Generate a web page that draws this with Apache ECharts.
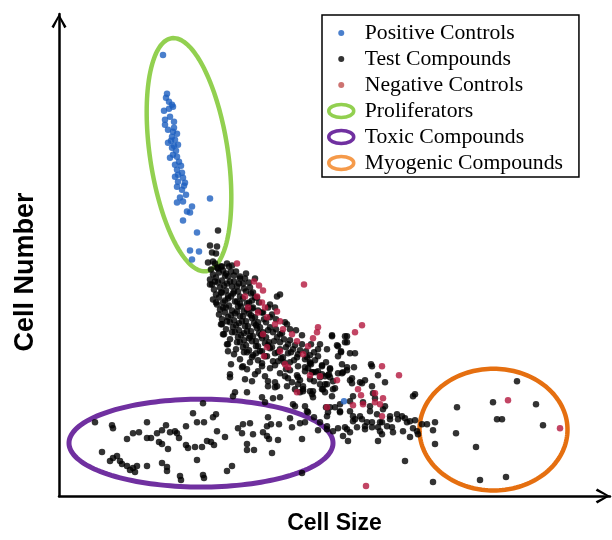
<!DOCTYPE html>
<html>
<head>
<meta charset="utf-8">
<script src="https://cdn.jsdelivr.net/npm/echarts@6/dist/echarts.min.js"></script>
<style>html,body{margin:0;padding:0;background:#fff;}#chart{width:612px;height:540px;}</style>
</head>
<body>
<div id="chart"></div>
<script>
// Axis names and legend labels
const xName = 'Cell Size';
const yName = 'Cell Number';
const legendNames = ['Positive Controls', 'Test Compounds', 'Negative Controls', 'Proliferators', 'Toxic Compounds', 'Myogenic Compounds'];

// Axis ranges (arbitrary units)
const xRange = [59, 610];
const yRange = [3, 486];

// Positive controls [cell size, cell number]
const positiveControls = [
  [163,445],[167,406],[166,402],[169,398],[172,395],[173,393],[164,389],[169,391],[170,383],[165,380],
  [174,378],[165,375],[174,372],[168,370],[173,368],[177,366],[172,363],[175,360],[171,359],[168,357],
  [178,355],[174,354],[172,352],[176,349],[173,345],[177,343],[170,342],[179,338],[175,335],[181,334],
  [177,330],[182,327],[178,325],[175,323],[183,322],[178,318],[185,317],[184,314],[177,313],[182,310],
  [186,305],[210,301],[180,302],[177,297],[183,298],[192,293],[187,288],[190,287],[183,279],[197,267],
  [190,249],[199,248],[192,240],[344,98]
];

// Negative controls
const negativeControls = [
  [237,236],[254,218],[259,214],[263,209],[245,203],[304,215],[257,203],[262,197],[265,192],[248,192],
  [258,187],[277,188],[267,182],[280,178],[275,175],[318,172],[317,167],[362,174],[355,167],[283,170],
  [292,165],[263,165],[297,158],[313,161],[308,153],[267,152],[280,148],[303,145],[264,143],[285,135],
  [288,132],[382,133],[399,124],[310,124],[320,123],[337,119],[297,107],[358,110],[361,104],[375,106],
  [383,101],[375,97],[380,95],[363,95],[353,94],[327,92],[382,83],[508,99],[560,71],[366,13]
];

// Test compounds: main cloud
const testCloud = [
  [215,236],[221,233],[227,236],[232,234],
  [211,230],[217,232],[223,229],[229,233],[236,228],
  [213,225],[219,227],[225,224],[231,228],[240,223],[246,226],
  [210,220],[216,222],[222,219],[228,223],[234,218],[240,221],[249,217],
  [212,215],[218,217],[224,214],[230,218],[237,213],[243,216],[250,212],
  [214,210],[220,212],[226,209],[232,213],[238,208],[244,211],[253,207],
  [216,205],[222,207],[228,204],[234,208],[240,203],[251,206],[257,202],
  [213,200],[219,202],[225,199],[231,203],[237,198],[243,201],[249,197],[255,202],
  [217,195],[223,197],[229,194],[235,198],[241,193],[247,196],[253,192],[259,197],[270,195],
  [220,190],[226,192],[232,189],[238,193],[244,188],[252,191],[262,187],[268,192],
  [219,185],[225,187],[231,184],[237,188],[243,183],[249,186],[255,182],[263,187],[272,185],
  [222,180],[228,182],[234,179],[240,183],[246,178],[252,181],[258,177],[270,182],[276,180],
  [221,175],[230,177],[236,174],[242,178],[248,173],[254,176],[260,172],[266,177],[287,175],
  [226,170],[233,172],[239,169],[245,173],[251,168],[257,171],[263,167],[270,172],[276,170],[296,169],
  [224,165],[235,167],[241,164],[247,168],[253,163],[259,166],[266,162],[273,167],[280,165],[302,164],
  [230,160],[238,162],[244,159],[250,163],[256,158],[262,161],[269,157],[277,162],[284,160],[290,159],
  [228,155],[240,157],[246,154],[252,158],[258,153],[265,156],[272,152],[280,157],[288,155],[295,154],
  [236,150],[243,152],[249,149],[256,153],[262,148],[270,151],[278,147],[286,152],[293,150],[300,149],[318,150],
  [234,145],[247,147],[253,144],[260,148],[267,143],[275,146],[283,142],[291,147],[298,145],[310,144],
  [240,140],[252,142],[258,139],[265,143],[273,138],[281,141],[290,137],[297,142],[305,140],[315,139],
  [231,135],[243,133],[262,136],[275,134],[284,137],[298,133],[310,136],[322,134],[342,135],
  [247,130],[258,128],[270,131],[290,129],[305,132],[318,128],[330,131],[347,129],
  [230,125],[265,123],[280,126],[297,124],[312,127],[325,123],[338,126],
  [245,120],[268,118],[288,121],[300,119],[320,122],[333,118],[352,121],[365,119],
  [277,203],[280,205],[275,192],[285,177],[290,170],[245,221],[255,221],[210,215],[222,175],[223,165],
  [227,155],[228,148],[332,164],[345,163],[347,157],[338,153],[341,147],[311,155],[306,148],[318,143],
  [326,137],[330,130],[313,127],[310,120],[298,122],[320,115],[285,123],[292,117],[303,110],[275,112],
  [218,269],[210,254],[217,253],[212,247],[216,246],[208,237],[222,233],[213,238],
  [218,231],[226,226],[234,224],[215,218],[227,216],[239,216],[221,207],[233,206],[246,208],[216,197],
  [228,201],[240,196],[252,199],[223,192],[235,186],[247,190],[258,189],[227,178],[239,176],[251,184],
  [264,180],[232,167],[244,166],[256,174],[268,169],[237,157],[249,161],[261,164],[274,158],[282,166],
  [244,147],[256,146],[268,154],[280,150],[288,146],[250,137],[262,133],[278,138],[294,139],[302,155],
  [286,130],[255,125],[308,131]
];

// Test compounds: between cloud and toxic region
const testMid = [
  [233,103],[262,102],[273,101],[280,102],[293,95],[307,88],[300,107],[235,107],[277,113],[252,118],
  [275,117],[295,110],[298,115],[303,113],[310,108],[312,105],[322,110],[327,115],[314,118],[295,93],
  [305,93],[265,97],[268,113],[287,113],[247,107],[230,122],[242,132],[203,96]
];

// Test compounds: toxic region
const testToxic = [
  [95,77],[112,74],[113,71],[147,77],[127,60],[133,66],[139,67],[147,61],[151,61],[157,66],
  [162,69],[166,74],[159,57],[162,55],[168,50],[170,67],[175,68],[177,66],[179,61],[186,73],
  [193,86],[197,77],[204,77],[213,82],[216,85],[186,54],[188,51],[195,52],[202,52],[207,58],
  [211,57],[214,54],[217,68],[225,62],[102,47],[110,38],[113,41],[117,43],[120,38],[122,35],
  [127,33],[130,29],[133,31],[135,27],[137,33],[147,33],[162,36],[167,32],[167,28],[180,23],
  [181,19],[197,39],[203,24],[204,21],[227,28],[232,33],[243,75],[250,76],[242,66],[247,55],
  [247,49],[254,49],[253,65],[263,67],[267,63],[269,60],[267,73],[268,82],[271,75],[279,75],
  [278,59],[272,46],[290,81],[292,72],[302,60],[300,76],[305,77],[308,87],[314,82],[320,77],
  [327,73],[328,87],[330,92],[302,26],[238,71]
];

// Test compounds: right tail
const testTail = [
  [337,154],[345,157],[341,148],[350,146],[355,146],[332,163],[347,163],[310,137],[322,133],[305,128],
  [316,127],[329,125],[343,127],[354,132],[371,135],[378,124],[350,119],[352,116],[360,117],[385,117],
  [323,110],[325,107],[335,111],[332,103],[313,108],[303,108],[313,102],[415,105],[363,97],[350,98],
  [340,88],[326,92],[327,83],[350,88],[353,83],[370,93],[370,88],[383,90],[380,77],[397,85],
  [398,80],[405,81],[407,77],[387,73],[378,72],[365,73],[372,72],[357,72],[355,80],[347,70],
  [350,67],[338,71],[343,63],[327,70],[318,69],[413,71],[415,79],[403,68],[393,67],[382,65],
  [418,65],[422,75],[328,124],[322,125],[362,116],[373,106],[375,101],[340,95],[385,93],[335,92],
  [340,87],[360,83],[377,85],[402,83],[390,80],[362,80],[367,77],[372,77],[382,77],[410,78],
  [427,75],[435,77],[433,69],[417,68],[392,72],[380,68],[365,70],[333,68],[410,62],[378,58],
  [348,58],[435,55],[405,38],[433,17],[353,103],[353,78],[345,72],[307,142],[314,147],[311,135],
  [372,133],[347,132],[342,126],[330,122],[325,115],[333,110],[372,113],[413,103],[390,83],[338,143],
  [320,155],[327,150]
];

// Test compounds: myogenic region
const testMyogenic = [
  [457,92],[493,97],[517,118],[536,95],[497,80],[502,80],[543,74],[456,66],[476,52],[480,19],[506,22]
];

// Highlighted regions: [centre x, centre y, radius x, radius y, tilt (deg)]
const proliferatorRegion = [[189,345,39,118,-8.5]];
const toxicRegion = [[201,56,132,44,0]];
const myogenicRegion = [[493.5,69.5,74,61,0]];

const testCompounds = [].concat(testCloud, testMid, testToxic, testTail, testMyogenic);

const COL = {
  blue: '#1d5fbf', black: '#000000', red: '#b3173d',
  green: '#92d050', purple: '#7030a0', orange: '#e56f10',
  legendRed: '#c0504d', legendOrange: '#f59a4a'
};

function renderEllipse(params, api) {
  const c = api.coord([api.value(0), api.value(1)]);
  const s = api.size([api.value(2), api.value(3)]);
  const ang = api.value(4) * Math.PI / 180;
  const pts = [];
  const n = 160;
  for (let i = 0; i < n; i++) {
    const t = i / n * 2 * Math.PI;
    const ex = s[0] * Math.cos(t), ey = s[1] * Math.sin(t);
    pts.push([c[0] + ex * Math.cos(ang) - ey * Math.sin(ang),
              c[1] + ex * Math.sin(ang) + ey * Math.cos(ang)]);
  }
  return {
    type: 'polygon',
    shape: { points: pts },
    style: { fill: 'transparent', stroke: api.visual('color'), lineWidth: params.seriesIndex === 4 ? 5 : 4.5 }
  };
}

function ellipseSeries(name, data, color) {
  return {
    type: 'custom', name: name, data: data, renderItem: renderEllipse,
    itemStyle: { color: color }, clip: false, silent: true, z: 1,
    encode: { x: 0, y: 1 }
  };
}

const arrow = 'path://M7.5,-14.3L7.5,-14.3M7.5,0L15,12.8L12.8,14.3L7.5,3.6L2.2,14.3L0,12.8Z';
const dotIcon = 'path://M0,0L0,0M25,13L25,13M9.5,6.5a3,3 0 1,0 6,0a3,3 0 1,0 -6,0Z';
const ringIcon = 'path://M0,6.5a12.5,6.5 0 1,0 25,0a12.5,6.5 0 1,0 -25,0Z';

const chart = echarts.init(document.getElementById('chart'), null, { renderer: 'canvas' });
chart.setOption({
  animation: false,
  backgroundColor: '#fff',
  grid: { left: 59, right: 2, top: 14, bottom: 43, containLabel: false },
  xAxis: {
    type: 'value', min: xRange[0], max: xRange[1],
    name: xName, nameLocation: 'middle', nameGap: 16,
    nameTextStyle: { fontFamily: 'Liberation Sans', fontWeight: 'bold', fontSize: 23, color: '#000' },
    axisLine: { show: true, onZero: false, symbol: ['none', arrow], symbolSize: [15, 28.6],
      lineStyle: { color: '#000', width: 2.5 } },
    axisTick: { show: false }, axisLabel: { show: false }, splitLine: { show: false }
  },
  yAxis: {
    type: 'value', min: yRange[0], max: yRange[1],
    name: yName, nameLocation: 'middle', nameGap: 20, nameRotate: 90,
    nameTextStyle: { fontFamily: 'Liberation Sans', fontWeight: 'bold', fontSize: 27, color: '#000', padding: [0, 34, 0, 0] },
    axisLine: { show: true, onZero: false, symbol: ['none', arrow], symbolSize: [15, 28.6],
      lineStyle: { color: '#000', width: 2.5 } },
    axisTick: { show: false }, axisLabel: { show: false }, splitLine: { show: false }
  },
  legend: {
    orient: 'vertical', left: 322, top: 15,
    padding: [5, 16, 1, 5],
    borderColor: '#000', borderWidth: 1.5, backgroundColor: '#fff',
    itemWidth: 25, itemHeight: 13, itemGap: 0, selectedMode: false,
    textStyle: { fontFamily: 'Liberation Serif', fontSize: 21.7, color: '#000', lineHeight: 26, padding: [0, 0, 0, 6] },
    data: [
      { name: legendNames[0], icon: dotIcon, itemStyle: { color: COL.blue, borderWidth: 0 } },
      { name: legendNames[1], icon: dotIcon, itemStyle: { color: COL.black, borderWidth: 0 } },
      { name: legendNames[2], icon: dotIcon, itemStyle: { color: COL.legendRed, borderWidth: 0 } },
      { name: legendNames[3], icon: ringIcon, itemStyle: { color: 'transparent', borderColor: COL.green, borderWidth: 3.5 } },
      { name: legendNames[4], icon: ringIcon, itemStyle: { color: 'transparent', borderColor: COL.purple, borderWidth: 3.5 } },
      { name: legendNames[5], icon: ringIcon, itemStyle: { color: 'transparent', borderColor: COL.legendOrange, borderWidth: 3.5 } }
    ]
  },
  series: [
    { type: 'scatter', name: legendNames[1], data: testCompounds, symbolSize: 6.5, itemStyle: { color: COL.black }, silent: true, z: 2 },
    { type: 'scatter', name: legendNames[2], data: negativeControls, symbolSize: 6.5, itemStyle: { color: COL.red }, silent: true, z: 3 },
    { type: 'scatter', name: legendNames[0], data: positiveControls, symbolSize: 6.5, itemStyle: { color: COL.blue }, silent: true, z: 3 },
    ellipseSeries(legendNames[3], proliferatorRegion, COL.green),
    ellipseSeries(legendNames[4], toxicRegion, COL.purple),
    ellipseSeries(legendNames[5], myogenicRegion, COL.orange)
  ]
});
</script>
</body>
</html>
